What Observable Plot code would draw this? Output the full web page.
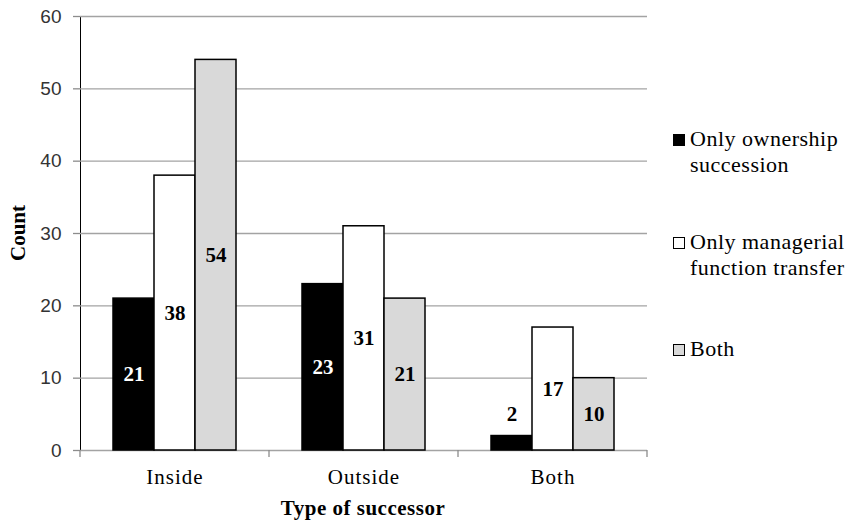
<!DOCTYPE html>
<html>
<head>
<meta charset="utf-8">
<script src="https://cdn.jsdelivr.net/npm/d3@7"></script>
<script src="https://cdn.jsdelivr.net/npm/@observablehq/plot@0.6"></script>
<style>
  html, body { margin: 0; padding: 0; background: #fff; }
  #wrap { position: relative; width: 847px; height: 522px; overflow: hidden; font-family: "Liberation Serif", "DejaVu Serif", serif; color: #000; }
  #wrap svg { display: block; }
  [aria-label^="y-axis"] text { font-family: "Liberation Sans", sans-serif; font-size: 19px; fill: #333; }
  [aria-label^="y-axis"] line, [aria-label^="y-axis"] path { stroke: #8c8c8c; stroke-width: 1.3; }
  [aria-label^="fx-axis"] text { letter-spacing: 1px; }
  .ttl { position: absolute; font-family: "Liberation Serif", "DejaVu Serif", serif; font-weight: bold; font-size: 21px; line-height: 26px; white-space: nowrap; color: #000; }
  .lg-sq { position: absolute; width: 10px; height: 10px; border: 1px solid #000; }
  .lg-tx { position: absolute; font-family: "Liberation Serif", serif; font-size: 22px; line-height: 26px; white-space: nowrap; letter-spacing: 0.5px; color: #000; }
</style>
</head>
<body>
<div id="wrap"></div>
<script>
// ---- data ----
const groups = ["Inside", "Outside", "Both"];
const series = ["Only ownership succession", "Only managerial function transfer", "Both"];
const ownershipValues = [21, 23, 2];
const managerialValues = [38, 31, 17];
const bothValues = [54, 21, 10];
const yTicks = [0, 10, 20, 30, 40, 50, 60];
const seriesColors = ["#000000", "#ffffff", "#d9d9d9"];
const legendLines = [["Only ownership", "succession"], ["Only managerial", "function transfer"], ["Both"]];
const xTitle = "Type of successor";
const yTitle = "Count";

const seriesValues = [ownershipValues, managerialValues, bothValues];
const rows = [];
groups.forEach((g, gi) => series.forEach((s, si) => rows.push({group: g, series: s, si, value: seriesValues[si][gi]})));
const labelY = d => d.value < 5 ? d.value + 3 : d.value / 2;

const plot = Plot.plot({
  width: 847,
  height: 522,
  marginLeft: 79,
  marginRight: 199,
  marginTop: 16,
  marginBottom: 72,
  fx: {domain: groups, padding: 0, label: null, tickSize: 0, tickPadding: 19, axis: "bottom"},
  x: {domain: series, paddingInner: 0, paddingOuter: 0.76, axis: null},
  y: {domain: [0, 60], ticks: yTicks, tickSize: 7, tickPadding: 12, label: null, line: true},
  color: {domain: series, range: seriesColors},
  style: {fontFamily: "Liberation Serif, serif", fontSize: "21px", color: "#000", background: "#fff", overflow: "visible"},
  marks: [
    Plot.ruleY(yTicks, {stroke: "#a3a3a3", strokeWidth: 1.3}),
    Plot.barY(rows, {fx: "group", x: "series", y: "value", fill: "series", stroke: "#000", strokeWidth: 1.5}),
    Plot.text(rows.filter(d => d.si === 0 && d.value >= 5), {fx: "group", x: "series", y: labelY, text: "value", fill: "#fff", fontWeight: "bold", fontSize: 21}),
    Plot.text(rows.filter(d => !(d.si === 0 && d.value >= 5)), {fx: "group", x: "series", y: labelY, text: "value", fill: "#000", fontWeight: "bold", fontSize: 21})
  ]
});

const wrap = document.getElementById("wrap");
wrap.appendChild(plot);

// group boundary ticks below the baseline, from the fx scale
try {
  const fxs = plot.scale("fx");
  const ys = plot.scale("y");
  const svg = d3.select(plot.tagName.toLowerCase() === "svg" ? plot : plot.querySelector("svg"));
  const bw = fxs.bandwidth;
  const edges = groups.map(g => fxs.apply(g)).concat([fxs.apply(groups[groups.length - 1]) + bw]);
  const y0 = ys.apply(0);
  svg.append("g").selectAll("line").data(edges).join("line")
    .attr("x1", d => d).attr("x2", d => d)
    .attr("y1", y0).attr("y2", y0 + 7)
    .attr("stroke", "#8c8c8c").attr("stroke-width", 1.3);
} catch (e) {}

// axis titles
const yt = document.createElement("div");
yt.className = "ttl";
yt.textContent = yTitle;
yt.style.left = "18px"; yt.style.top = "233px";
yt.style.transform = "translate(-50%, -50%) rotate(-90deg)";
wrap.appendChild(yt);

const xt = document.createElement("div");
xt.className = "ttl";
xt.textContent = xTitle;
xt.style.left = "363px"; xt.style.top = "495px";
xt.style.transform = "translateX(-50%)";
xt.style.letterSpacing = "0.5px";
wrap.appendChild(xt);

// legend
const legendTops = [126, 229, 336];
legendLines.forEach((lines, i) => {
  const sq = document.createElement("div");
  sq.className = "lg-sq";
  sq.style.background = seriesColors[i];
  sq.style.left = "673px";
  sq.style.top = (legendTops[i] + 8) + "px";
  wrap.appendChild(sq);
  const tx = document.createElement("div");
  tx.className = "lg-tx";
  tx.style.left = "690px";
  tx.style.top = legendTops[i] + "px";
  tx.innerHTML = lines.join("<br>");
  wrap.appendChild(tx);
});
</script>
</body>
</html>
